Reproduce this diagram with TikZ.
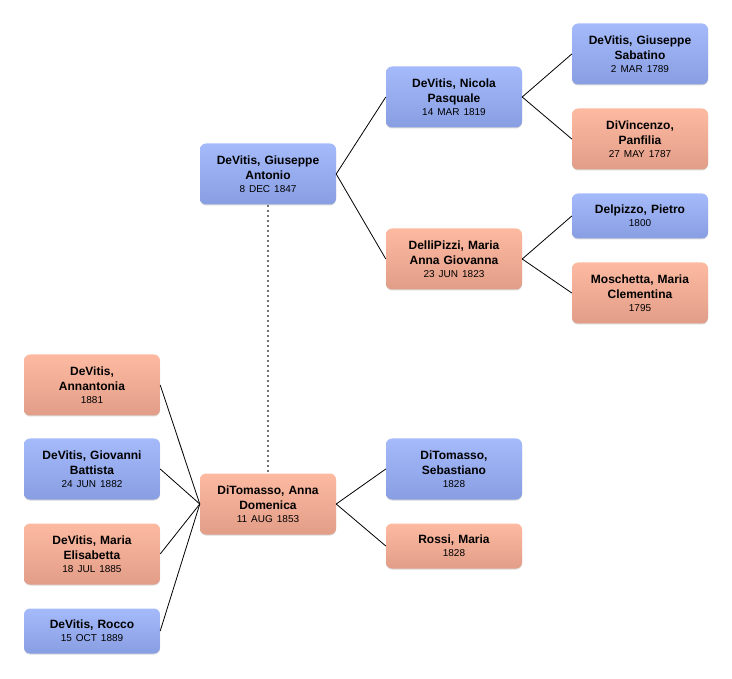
\documentclass[tikz,border=0pt]{standalone}
\usepackage{fontspec}
\setmainfont{Liberation Sans}
\usepackage{tikz}
\usetikzlibrary{shadows,calc}
\usepackage{xcolor}
\definecolor{bluetop}{RGB}{164,186,250}
\definecolor{bluebot}{RGB}{136,158,226}
\definecolor{pinktop}{RGB}{253,186,161}
\definecolor{pinkbot}{RGB}{226,157,136}

\tikzset{
	person/.style={rectangle,rounded corners=6pt,minimum width=136pt,minimum height=61pt,
		text width=132pt,align=center,inner sep=2pt,
		font=\fontsize{12}{14.5}\selectfont,
		drop shadow={shadow xshift=0pt,shadow yshift=-1pt,opacity=.25,fill=black!60}},
	male/.style={person,top color=bluetop,bottom color=bluebot},
	female/.style={person,top color=pinktop,bottom color=pinkbot},
	short/.style={minimum height=45pt},
	link/.style={-,black,line width=0.8pt},
}
\newcommand{\who}[2]{\textbf{#1}\\[-1.5pt]{\fontsize{10}{12}\selectfont #2}}

\begin{document}
\begin{tikzpicture}[x=1pt,y=-1pt]
		\useasboundingbox (0,0) rectangle (732,679);
		\node[male]
		(giuseppe) at (268,174)			{\who{DeVitis, Giuseppe\\Antonio}{8 DEC 1847}};
		\node[male]
		(nicola) at (454,97)			{\who{DeVitis, Nicola\\Pasquale}{14 MAR 1819}};
		\node[female]
		(mariaanna) at (454,259)		{\who{DelliPizzi, Maria\\Anna Giovanna}{23 JUN 1823}};
		\node[male]
		(sabatino) at (640,54)			{\who{DeVitis, Giuseppe\\Sabatino}{2 MAR 1789}};
		\node[female]
		(panfilia) at (640,139)			{\who{DiVincenzo,\\Panfilia}{27 MAY 1787}};
		\node[male,short]
		(pietro) at (640,216)			{\who{Delpizzo, Pietro}{1800}};
		\node[female]
		(clementina) at (640,293)		{\who{Moschetta, Maria\\Clementina}{1795}};
		\node[female]
		(anna) at (268,504)				{\who{DiTomasso, Anna\\Domenica}{11 AUG 1853}};
		\node[male]
		(sebastiano) at (454,469)		{\who{DiTomasso,\\Sebastiano}{1828}};
		\node[female,short]
		(rossi) at (454,546)			{\who{Rossi, Maria}{1828}};
		\node[female]
		(annantonia) at (92,385)		{\who{DeVitis,\\Annantonia}{1881}};
		\node[male]
		(giovanni) at (92,469)			{\who{DeVitis, Giovanni\\Battista}{24 JUN 1882}};
		\node[female]
		(elisabetta) at (92,554)		{\who{DeVitis, Maria\\Elisabetta}{18 JUL 1885}};
		\node[male,short]
		(rocco) at (92,631)				{\who{DeVitis, Rocco}{15 OCT 1889}};
		
		\draw[black!55,line width=1.6pt,dash pattern=on 2.5pt off 2.5pt] (giuseppe) -- (anna);
		\draw[link] (giuseppe.east) -- (nicola.west);
		\draw[link] (giuseppe.east) -- (mariaanna.west);
		\draw[link] (nicola.east) -- (sabatino.west);
		\draw[link] (nicola.east) -- (panfilia.west);
		\draw[link] (mariaanna.east) -- (pietro.west);
		\draw[link] (mariaanna.east) -- (clementina.west);
		\draw[link] (anna.east) -- (sebastiano.west);
		\draw[link] (anna.east) -- (rossi.west);
		\foreach \kid in {annantonia,giovanni,elisabetta,rocco}
			\draw[link] (\kid.east) -- (anna.west);
		\end{tikzpicture}
\end{document}
